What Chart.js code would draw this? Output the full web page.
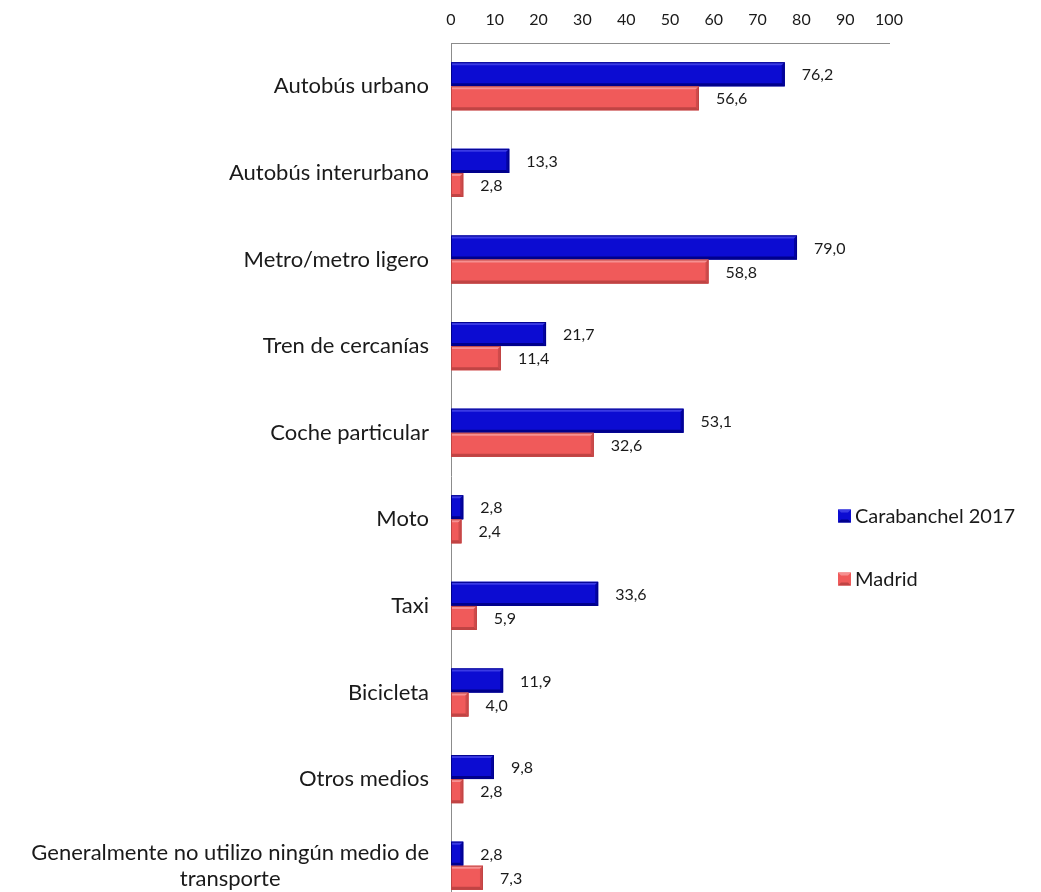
<!DOCTYPE html>
<html>
<head>
<meta charset="utf-8">
<script src="https://cdn.jsdelivr.net/npm/chart.js@4/dist/chart.umd.min.js"></script>
<style>
html,body{margin:0;padding:0;background:#fff;overflow:hidden;}
canvas{display:block;}
</style>
</head>
<body>
<canvas id="c" width="1041" height="910"></canvas>
<script>
const categories = [
  "Autobús urbano",
  "Autobús interurbano",
  "Metro/metro ligero",
  "Tren de cercanías",
  "Coche particular",
  "Moto",
  "Taxi",
  "Bicicleta",
  "Otros medios",
  ["Generalmente no utilizo ningún medio de", "transporte"]
];
const carabanchel = [76.2, 13.3, 79.0, 21.7, 53.1, 2.8, 33.6, 11.9, 9.8, 2.8];
const madrid = [56.6, 2.8, 58.8, 11.4, 32.6, 2.4, 5.9, 4.0, 2.8, 7.3];
const seriesNames = ["Carabanchel 2017", "Madrid"];
const xMin = 0, xMax = 100, xStep = 10;

const FONT = "Lato, 'Open Sans', sans-serif";
const TEXT = "#1a1a1a";
const palette = [
  {main: "#0c0cd2", light: "#3a3ae4", dark: "#00008c"},
  {main: "#f05a5a", light: "#f69090", dark: "#c04444"}
];

const bevelPlugin = {
  id: "bevel",
  afterDatasetsDraw(chart) {
    const ctx = chart.ctx;
    chart.data.datasets.forEach((ds, di) => {
      const meta = chart.getDatasetMeta(di);
      const p = palette[di];
      meta.data.forEach(bar => {
        const x0 = bar.base, x1 = bar.x;
        const h = bar.height, yt = bar.y - h / 2, yb = bar.y + h / 2;
        const w = x1 - x0;
        const b = Math.min(3, w / 2);
        ctx.save();
        ctx.fillStyle = p.light;
        ctx.beginPath();
        ctx.moveTo(x0, yt); ctx.lineTo(x1, yt); ctx.lineTo(x1 - b, yt + b); ctx.lineTo(x0, yt + b);
        ctx.closePath(); ctx.fill();
        ctx.fillStyle = p.dark;
        ctx.beginPath();
        ctx.moveTo(x0, yb); ctx.lineTo(x1, yb); ctx.lineTo(x1 - b, yb - b); ctx.lineTo(x0, yb - b);
        ctx.closePath(); ctx.fill();
        ctx.globalAlpha = 0.7;
        ctx.fillStyle = p.dark;
        ctx.beginPath();
        ctx.moveTo(x1, yt); ctx.lineTo(x1, yb); ctx.lineTo(x1 - b, yb - b); ctx.lineTo(x1 - b, yt + b);
        ctx.closePath(); ctx.fill();
        ctx.globalAlpha = 1;
        ctx.strokeStyle = p.dark;
        ctx.lineWidth = 1;
        ctx.strokeRect(x0 + 0.5, yt + 0.5, Math.max(0, w - 1), h - 1);
        ctx.restore();
      });
    });
  }
};

const labelsPlugin = {
  id: "labelsPlugin",
  afterDraw(chart) {
    const ctx = chart.ctx;
    const ys = chart.scales.y;
    ctx.save();
    ctx.font = "22px " + FONT;
    ctx.fillStyle = TEXT;
    ctx.textBaseline = "middle";
    const right = chart.chartArea.left - 22;
    chart.data.labels.forEach((lab, i) => {
      const yc = ys.getPixelForTick(i);
      if (Array.isArray(lab)) {
        const lh = 26;
        const maxW = Math.max(...lab.map(l => ctx.measureText(l).width));
        const cx = right - maxW / 2;
        ctx.textAlign = "center";
        lab.forEach((l, k) => {
          ctx.fillText(l, cx, yc + (k - (lab.length - 1) / 2) * lh);
        });
      } else {
        ctx.textAlign = "right";
        ctx.fillText(lab, right, yc);
      }
    });
    ctx.restore();

    ctx.save();
    ctx.font = "16px " + FONT;
    ctx.fillStyle = TEXT;
    ctx.textAlign = "left";
    ctx.textBaseline = "middle";
    chart.data.datasets.forEach((ds, di) => {
      const meta = chart.getDatasetMeta(di);
      meta.data.forEach((bar, i) => {
        const v = ds.data[i].toFixed(1).replace(".", ",");
        ctx.fillText(v, bar.x + 17, bar.y + 1);
      });
    });
    ctx.restore();

    ctx.save();
    const lx = 838, ly = [516, 579];
    chart.data.datasets.forEach((ds, di) => {
      const p = palette[di];
      const s = 13, y0 = ly[di] - s / 2;
      ctx.fillStyle = p.main;
      ctx.fillRect(lx, y0, s, s);
      ctx.fillStyle = p.light;
      ctx.beginPath(); ctx.moveTo(lx, y0); ctx.lineTo(lx + s, y0); ctx.lineTo(lx + s - 3, y0 + 3); ctx.lineTo(lx + 3, y0 + 3); ctx.closePath(); ctx.fill();
      ctx.fillStyle = p.dark;
      ctx.beginPath(); ctx.moveTo(lx, y0 + s); ctx.lineTo(lx + s, y0 + s); ctx.lineTo(lx + s - 3, y0 + s - 3); ctx.lineTo(lx + 3, y0 + s - 3); ctx.closePath(); ctx.fill();
      ctx.font = "20px " + FONT;
      ctx.fillStyle = TEXT;
      ctx.textAlign = "left";
      ctx.textBaseline = "middle";
      ctx.fillText(ds.label, lx + s + 4, ly[di] + 1);
    });
    ctx.restore();
  }
};

new Chart(document.getElementById("c"), {
  type: "bar",
  data: {
    labels: categories,
    datasets: [
      {label: seriesNames[0], data: carabanchel, backgroundColor: palette[0].main, borderWidth: 0},
      {label: seriesNames[1], data: madrid, backgroundColor: palette[1].main, borderWidth: 0}
    ]
  },
  options: {
    indexAxis: "y",
    responsive: false,
    animation: false,
    devicePixelRatio: 1,
    layout: {padding: {left: 451, right: 152, top: 0, bottom: 1}},
    datasets: {bar: {categoryPercentage: 0.555, barPercentage: 1.0}},
    plugins: {legend: {display: false}, tooltip: {enabled: false}},
    scales: {
      x: {
        position: "top",
        min: xMin, max: xMax,
        ticks: {stepSize: xStep, font: {size: 16, family: FONT}, color: TEXT, padding: 14},
        grid: {display: false, drawTicks: false},
        border: {display: true, color: "#8c8c8c", width: 1},
        afterFit(s) { s.height = 43; }
      },
      y: {
        ticks: {display: false},
        grid: {display: false, drawTicks: false},
        border: {display: true, color: "#8c8c8c", width: 1},
        afterFit(s) { s.width = 0; }
      }
    }
  },
  plugins: [bevelPlugin, labelsPlugin]
});
</script>
</body>
</html>
